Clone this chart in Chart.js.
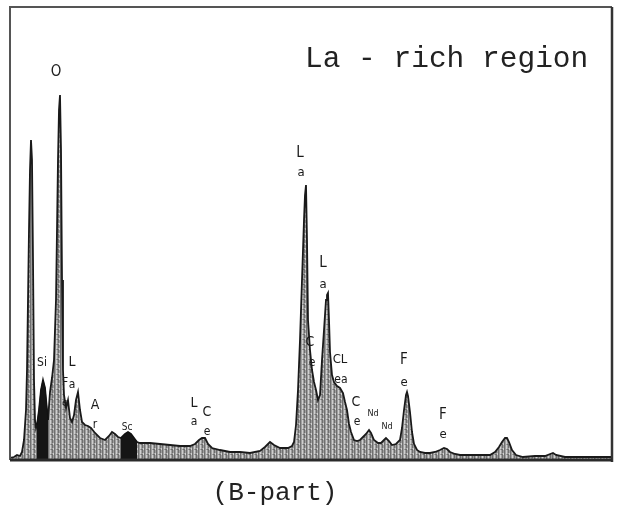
<!DOCTYPE html>
<html lang="en">
<head>
  <meta charset="UTF-8">
  <title>La - rich region (B-part)</title>
  <script src="https://cdn.jsdelivr.net/npm/chart.js"></script>
  <style>
    html, body { margin: 0; padding: 0; background: #fff; }
    .wrap { position: relative; width: 618px; height: 513px; }
  </style>
</head>
<body>
  <div class="wrap"><canvas id="spectrum" width="618" height="513"></canvas></div>

  <script>
    // spectrum: channel number and counts (arbitrary units)
    const channels = [0, 4, 7, 10, 12, 14, 16, 17, 18, 19, 20, 21, 22, 23, 24, 25, 26,
      27, 29, 31, 33, 35, 37, 38, 40, 42, 44, 46, 47, 48, 49, 50, 51, 52, 53, 54, 56, 58,
      60, 62, 64, 66, 68, 70, 72, 75, 78, 81, 85, 90, 95, 99, 102, 105, 108, 111, 112, 115,
      118, 121, 124, 127, 130, 140, 150, 160, 170, 180, 185, 189, 192, 195, 198, 202, 210,
      220, 230, 240, 250, 255, 260, 264, 270, 278, 282, 284, 286, 288, 290, 292, 294, 295,
      296, 297, 298, 300, 302, 304, 306, 308, 310, 312, 314, 316, 317, 318, 319, 320, 322,
      324, 327, 330, 333, 335, 337, 339, 341, 344, 347, 350, 353, 356, 359, 361, 364, 368,
      371, 374, 376, 379, 382, 386, 390, 392, 394, 396, 397, 398, 400, 402, 404, 407, 410,
      415, 420, 425, 430, 434, 437, 440, 445, 450, 460, 470, 480, 485, 489, 492, 495, 497,
      499, 502, 506, 513, 525, 535, 543, 546, 555, 570, 585, 595, 602];
    const counts = [2, 3, 5, 4, 8, 20, 50, 90, 160, 230, 290, 320, 300, 200, 80, 40, 32,
      35, 50, 70, 80, 72, 50, 40, 68, 82, 100, 160, 230, 300, 350, 365, 310, 180, 90, 65, 52, 60,
      42, 38, 45, 60, 68, 50, 38, 35, 34, 32, 27, 22, 20, 24, 28, 26, 23, 22, 23, 26,
      28, 26, 22, 18, 17, 17, 16, 15, 14, 14, 16, 20, 22, 22, 16, 12, 10,
      8, 8, 7, 9, 13, 18, 15, 12, 12, 14, 18, 35, 70, 120, 180, 240, 265,
      275, 220, 140, 110, 90, 78, 70, 60, 65, 100, 130, 160, 165, 167, 140, 108, 85,
      78, 74, 72, 67, 58, 50, 36, 28, 20, 19, 20, 23, 26, 30, 27, 20, 17,
      17, 20, 22, 19, 15, 16, 20, 32, 50, 65, 68, 64, 48, 28, 16, 10, 8,
      7, 7, 8, 10, 12, 11, 8, 6, 5, 5, 5, 5, 8, 13, 18, 22, 22,
      18, 10, 5, 3, 4, 4, 7, 5, 3, 3, 3, 3, 3];

    // channel ranges shaded black in the original
    const siRange = [27, 38];
    const scRange = [111, 127];

    const xMax = 602;
    const yMax = 453;

    // peak labels as written on the plot: [text, channel, counts, size]
    const peakLabels = [
      ['O', 46, 388, 15],
      ['Si', 32, 97, 12],
      ['L', 62, 98, 14], ['F', 55, 77, 12], ['a', 62, 75, 12], ['e', 55, 57, 11],
      ['A', 85, 55, 14], ['r', 85, 35, 12],
      ['Sc', 117, 33, 10],
      ['L', 184, 57, 14], ['a', 184, 38, 12], ['C', 197, 48, 14], ['e', 197, 28, 12],
      ['L', 290, 307, 15], ['a', 291, 287, 13],
      ['L', 313, 197, 15], ['a', 313, 175, 13],
      ['C', 300, 118, 14], ['e', 302, 97, 12],
      ['CL', 330, 100, 13], ['ea', 331, 80, 12],
      ['C', 346, 58, 14], ['e', 347, 38, 12],
      ['Nd', 363, 46, 9], ['Nd', 377, 33, 9],
      ['F', 394, 100, 15], ['e', 394, 77, 13],
      ['F', 433, 45, 15], ['e', 433, 25, 13]
    ];

    const points = channels.map((c, i) => ({ x: c, y: counts[i] }));
    const inRange = r => points.filter(p => p.x >= r[0] && p.x <= r[1]);

    function grainPattern() {
      const c = document.createElement('canvas');
      c.width = 6; c.height = 5;
      const g = c.getContext('2d');
      g.fillStyle = '#9e9e9e';
      g.fillRect(0, 0, 6, 5);
      g.fillStyle = '#6f6f6f';
      g.fillRect(0, 0, 1, 5);
      g.fillRect(4, 0, 1, 3);
      g.fillRect(3, 4, 2, 1);
      g.fillStyle = '#d0d0d0';
      g.fillRect(2, 0, 1, 4);
      g.fillRect(5, 3, 1, 2);
      return g.createPattern(c, 'repeat');
    }

    const framePlugin = {
      id: 'frame',
      afterDatasetsDraw(chart) {
        const { ctx, chartArea: a, scales } = chart;
        ctx.save();
        // box round the spectrum
        ctx.strokeStyle = '#555';
        ctx.lineWidth = 2;
        ctx.beginPath();
        ctx.moveTo(a.left, a.bottom);
        ctx.lineTo(a.left, a.top);
        ctx.lineTo(a.right, a.top);
        ctx.stroke();
        ctx.strokeStyle = '#333';
        ctx.lineWidth = 2.5;
        ctx.beginPath();
        ctx.moveTo(a.right, a.top);
        ctx.lineTo(a.right, a.bottom + 2);
        ctx.stroke();
        // baseline
        ctx.strokeStyle = '#2a2a2a';
        ctx.lineWidth = 3;
        ctx.beginPath();
        ctx.moveTo(a.left, a.bottom);
        ctx.lineTo(a.right, a.bottom);
        ctx.stroke();

        // peak labels
        ctx.fillStyle = '#1a1a1a';
        ctx.textAlign = 'center';
        ctx.textBaseline = 'middle';
        peakLabels.forEach(([t, cx, cy, s]) => {
          ctx.font = s + "px 'DejaVu Sans Condensed', 'DejaVu Sans', sans-serif";
          ctx.fillText(t, scales.x.getPixelForValue(cx), scales.y.getPixelForValue(cy));
        });

        // titles
        ctx.fillStyle = '#222';
        ctx.textAlign = 'left';
        ctx.textBaseline = 'alphabetic';
        ctx.font = "29.5px 'Liberation Mono', 'DejaVu Sans Mono', monospace";
        ctx.fillText('La - rich region', 305, 67);
        ctx.textAlign = 'center';
        ctx.font = "26px 'Liberation Mono', 'DejaVu Sans Mono', monospace";
        ctx.fillText('(B-part)', 275, 500);
        ctx.restore();
      }
    };

    new Chart(document.getElementById('spectrum'), {
      type: 'line',
      data: {
        datasets: [
          {
            label: 'Si',
            data: inRange(siRange),
            borderColor: '#111',
            borderWidth: 1,
            backgroundColor: '#151515',
            fill: 'origin',
            pointRadius: 0,
            order: 0
          },
          {
            label: 'Sc',
            data: inRange(scRange),
            borderColor: '#111',
            borderWidth: 1,
            backgroundColor: '#151515',
            fill: 'origin',
            pointRadius: 0,
            order: 0
          },
          {
            label: 'spectrum',
            data: points,
            borderColor: '#1a1a1a',
            borderWidth: 1.8,
            backgroundColor: grainPattern(),
            fill: 'origin',
            pointRadius: 0,
            tension: 0,
            order: 1
          }
        ]
      },
      options: {
        responsive: false,
        animation: false,
        layout: { padding: { left: 10, right: 6, top: 7, bottom: 53 } },
        plugins: { legend: { display: false }, tooltip: { enabled: false } },
        scales: {
          x: { type: 'linear', min: 0, max: xMax, display: false },
          y: { min: 0, max: yMax, display: false }
        }
      },
      plugins: [framePlugin]
    });
  </script>
</body>
</html>
